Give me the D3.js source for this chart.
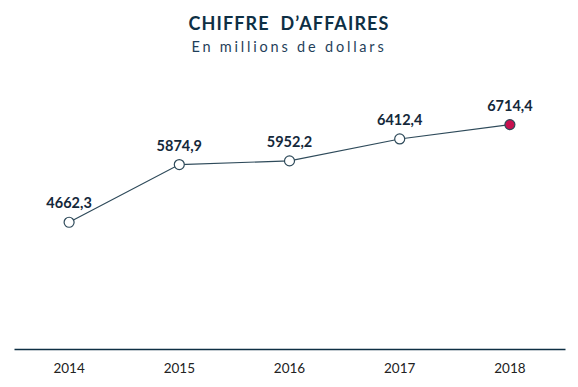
<!DOCTYPE html>
<html>
<head>
<meta charset="utf-8">
<script src="https://cdn.jsdelivr.net/npm/d3@7"></script>
<style>
  body { margin: 0; background: #fff; }
  svg { display: block; font-family: Lato, "Open Sans", sans-serif; }
</style>
</head>
<body>
<svg id="chart" width="578" height="387"></svg>
<script>
const years = ['2014', '2015', '2016', '2017', '2018'];
const values = [4662.3, 5874.9, 5952.2, 6412.4, 6714.4];
const valueLabels = ['4662,3', '5874,9', '5952,2', '6412,4', '6714,4'];

const width = 578;
const height = 387;
const axisY = 349;

const data = years.map((y, i) => ({ year: y, value: values[i], label: valueLabels[i] }));

const svg = d3.select('#chart');

const xscale = d3.scaleBand()
  .domain(years)
  .range([14, 565]);

const yscale = d3.scaleLinear()
  .domain([2000, 7000])
  .range([axisY, 111]);

const cx = (d) => xscale(d.year) + xscale.bandwidth() / 2;

// title
svg.append('text')
  .attr('x', 289).attr('y', 30)
  .attr('text-anchor', 'middle')
  .attr('fill', '#0e2f44')
  .style('font-size', '18px')
  .style('font-weight', 'bold')
  .style('letter-spacing', '1.1px')
  .style('white-space', 'pre')
  .text('CHIFFRE  D\u2019AFFAIRES');

svg.append('text')
  .attr('x', 289).attr('y', 52)
  .attr('text-anchor', 'middle')
  .attr('fill', '#1f3f5a')
  .style('font-size', '14.5px')
  .style('letter-spacing', '2.8px')
  .text('En millions de dollars');

// bottom axis
const bottomAxis = d3.axisBottom(xscale).tickSize(0).tickPadding(14);
const ax = svg.append('g')
  .attr('transform', `translate(0, ${axisY})`)
  .call(bottomAxis);
ax.select('.domain').attr('stroke', '#0e2f44').attr('stroke-width', 1.3);
ax.selectAll('text')
  .attr('fill', '#222')
  .style('font-size', '13.5px')
  .style('font-family', 'Lato, "Open Sans", sans-serif');

// line
const line = d3.line()
  .x(cx)
  .y((d) => yscale(d.value));

svg.append('path')
  .datum(data)
  .attr('d', line)
  .attr('fill', 'none')
  .attr('stroke', '#2e4a5a')
  .attr('stroke-width', 1.2);

svg.append('g')
  .selectAll('circle')
  .data(data)
  .enter()
  .append('circle')
  .attr('cx', cx)
  .attr('cy', (d) => yscale(d.value))
  .attr('r', 5)
  .attr('fill', (d, i) => i === data.length - 1 ? '#c8104f' : '#fff')
  .attr('stroke', '#2e4a5a')
  .attr('stroke-width', 1.2);

svg.append('g')
  .selectAll('text')
  .data(data)
  .enter()
  .append('text')
  .attr('x', cx)
  .attr('y', (d) => yscale(d.value) - 14)
  .attr('text-anchor', 'middle')
  .attr('fill', '#14283a')
  .style('font-size', '14.5px')
  .style('font-weight', 'bold')
  .text((d) => d.label);
</script>
</body>
</html>
